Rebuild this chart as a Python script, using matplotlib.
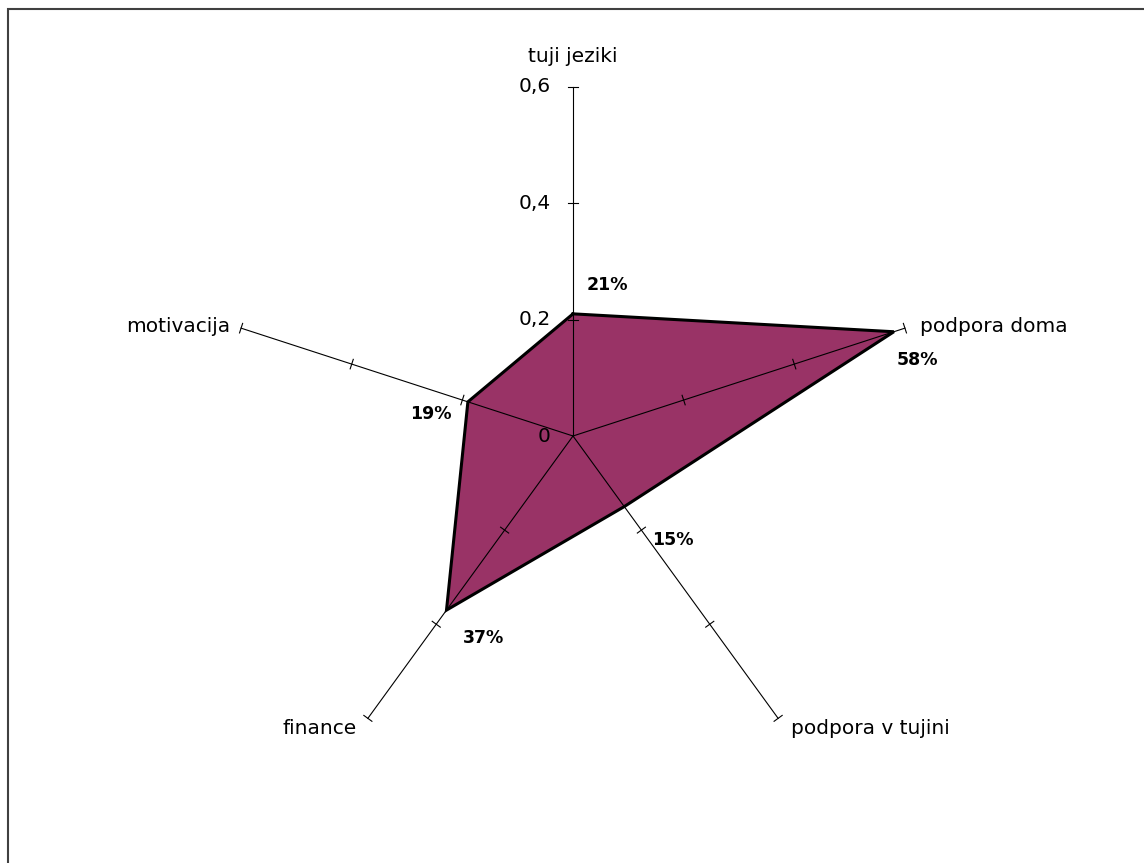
import numpy as np
import matplotlib
matplotlib.use("Agg")
import matplotlib.pyplot as plt
import matplotlib.patches as patches

# data
categories = ["tuji jeziki", "podpora doma", "podpora v tujini", "finance", "motivacija"]
values = [0.21, 0.58, 0.15, 0.37, 0.19]
value_labels = ["21%", "58%", "15%", "37%", "19%"]
rticks = [0, 0.2, 0.4, 0.6]
rtick_labels = ["0", "0,2", "0,4", "0,6"]
rmax = 0.6

plt.rcParams['font.family'] = ['DejaVu Sans']

fig = plt.figure(figsize=(11.44, 8.63), dpi=100)
ax = fig.add_axes([0, 0, 1, 1])
ax.axis('off')

# pixel based scale: center at (573, 436), 0.6 -> 349 px
scale = 349 / rmax
ax.set_xlim(-573 / scale, (1144 - 573) / scale)
ax.set_ylim(-(863 - 436) / scale, 436 / scale)

n = len(categories)
ang = np.deg2rad(90 - 72 * np.arange(n))
ux, uy = np.cos(ang), np.sin(ang)

# polygon
vals = np.array(values)
px, py = vals * ux, vals * uy
ax.add_patch(patches.Polygon(np.column_stack([px, py]), closed=True,
                             facecolor="#993366", edgecolor="none", zorder=1))

# spokes with ticks
tick_half = 5 / scale
for i in range(n):
    ax.plot([0, rmax * ux[i]], [0, rmax * uy[i]], color="black", lw=0.8, zorder=2)
    for r in rticks[1:]:
        cx, cy = r * ux[i], r * uy[i]
        nx, ny = -uy[i], ux[i]
        ax.plot([cx - tick_half * nx, cx + tick_half * nx],
                [cy - tick_half * ny, cy + tick_half * ny],
                color="black", lw=0.8, zorder=2)

ax.plot(np.append(px, px[0]), np.append(py, py[0]), color="black", lw=2.2,
        zorder=3, solid_joinstyle='miter')

# value axis labels
for r, lab in zip(rticks, rtick_labels):
    ax.annotate(lab, (0, r), xytext=(-16, 0), textcoords='offset points',
                ha='right', va='center', fontsize=14.5)

# category labels
cat_off = [(0, 22, 'center'), (11, 1, 'left'), (9, -7, 'left'),
           (-8, -7, 'right'), (-8, 1, 'right')]
for i, lab in enumerate(categories):
    dx, dy, ha = cat_off[i]
    ax.annotate(lab, (rmax * ux[i], rmax * uy[i]), xytext=(dx, dy),
                textcoords='offset points', ha=ha, va='center', fontsize=14.5)

# data labels
val_off = [(25, 21), (17, -20), (35, -24), (27, -20), (-27, -9)]
for i, lab in enumerate(value_labels):
    dx, dy = val_off[i]
    ax.annotate(lab, (px[i], py[i]), xytext=(dx, dy), textcoords='offset points',
                ha='center', va='center', fontsize=12.5, fontweight='bold')

# chart area border (top and left visible)
fig.add_artist(patches.Rectangle((8 / 1144, -0.1), 1.2, 1.1 - 9 / 863,
                                 transform=fig.transFigure, fill=False,
                                 edgecolor="#404040", lw=1.5))

fig.savefig("out.png", dpi=100)
